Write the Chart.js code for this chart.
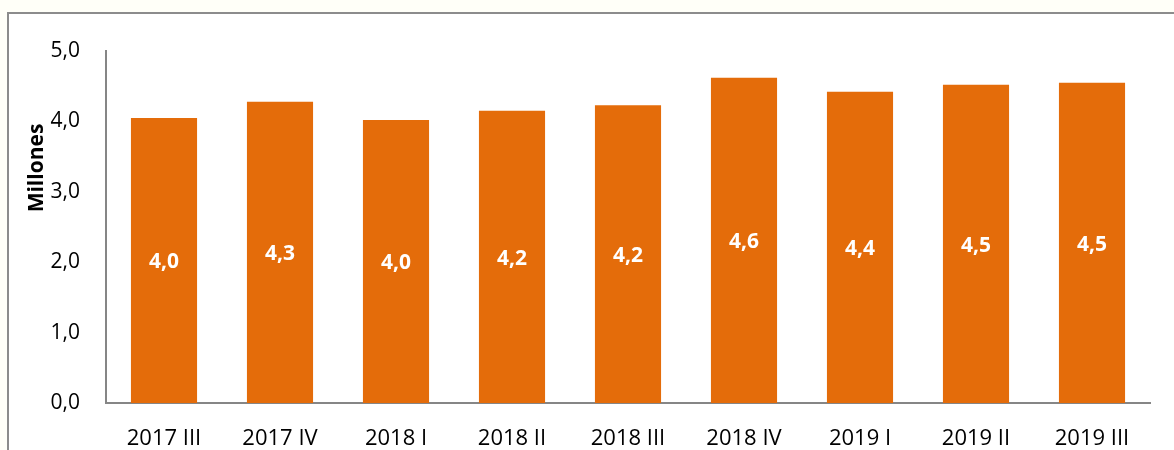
<!DOCTYPE html>
<html>
<head>
<meta charset="utf-8">
<script src="https://cdn.jsdelivr.net/npm/chart.js@4"></script>
<style>
  html, body { margin: 0; padding: 0; }
  body { width: 1174px; height: 450px; overflow: hidden; background: #fffff8; position: relative; }
  #frame { position: absolute; left: 7px; top: 12px; width: 1200px; height: 500px; border: 1px solid #8c8c8c; border-width: 2px 0 0 2px; background: #ffffff; }
  #wrap { position: absolute; left: 0; top: 0; width: 1174px; height: 450px; }
</style>
</head>
<body>
<div id="frame"></div>
<div id="wrap"><canvas id="chart" width="1174" height="450"></canvas></div>
<script>
const categories = ["2017 III", "2017 IV", "2018 I", "2018 II", "2018 III", "2018 IV", "2019 I", "2019 II", "2019 III"];
const values = [4.05, 4.28, 4.02, 4.15, 4.23, 4.62, 4.42, 4.52, 4.55];
const yTicks = [0, 1, 2, 3, 4, 5];

const fmt = (v) => v.toFixed(1).replace(".", ",");

Chart.defaults.font.family = "'Open Sans', sans-serif";

const barLabels = {
  id: "barLabels",
  afterDatasetsDraw(chart) {
    const ctx = chart.ctx;
    const meta = chart.getDatasetMeta(0);
    ctx.save();
    ctx.fillStyle = "#ffffff";
    ctx.font = "bold 21px 'Open Sans', sans-serif";
    ctx.textAlign = "center";
    ctx.textBaseline = "middle";
    meta.data.forEach((bar, i) => {
      ctx.fillText(fmt(values[i]), bar.x, (bar.y + bar.base) / 2 + 2);
    });
    ctx.restore();
  }
};

const yTitle = {
  id: "yTitle",
  afterDraw(chart) {
    const ctx = chart.ctx;
    ctx.save();
    ctx.translate(37, 168);
    ctx.rotate(-Math.PI / 2);
    ctx.fillStyle = "#000000";
    ctx.font = "bold 21px 'Open Sans', sans-serif";
    ctx.textAlign = "center";
    ctx.textBaseline = "middle";
    ctx.fillText("Millones", 0, 0);
    ctx.restore();
  }
};

new Chart(document.getElementById("chart"), {
  type: "bar",
  data: {
    labels: categories,
    datasets: [{
      data: values,
      backgroundColor: "#e46c0a",
      borderWidth: 0,
      barPercentage: 0.57,
      categoryPercentage: 1.0
    }]
  },
  options: {
    responsive: false,
    animation: false,
    events: [],
    layout: { padding: { top: 51, right: 24, left: 0, bottom: 0 } },
    plugins: { legend: { display: false }, tooltip: { enabled: false } },
    scales: {
      x: {
        grid: { display: false, drawTicks: false },
        border: { color: "#868686", width: 2 },
        ticks: { color: "#000000", padding: 23, font: { size: 22 } },
        afterFit(scale) { scale.height = 47; }
      },
      y: {
        min: 0,
        max: 5,
        afterBuildTicks(scale) { scale.ticks = yTicks.map(v => ({ value: v })); },
        grid: { display: false, drawTicks: false },
        border: { color: "#868686", width: 2 },
        ticks: { color: "#000000", padding: 26, font: { size: 21 }, callback: (v) => fmt(v) },
        afterFit(scale) { scale.width = 106; }
      }
    }
  },
  plugins: [barLabels, yTitle]
});
</script>
</body>
</html>
